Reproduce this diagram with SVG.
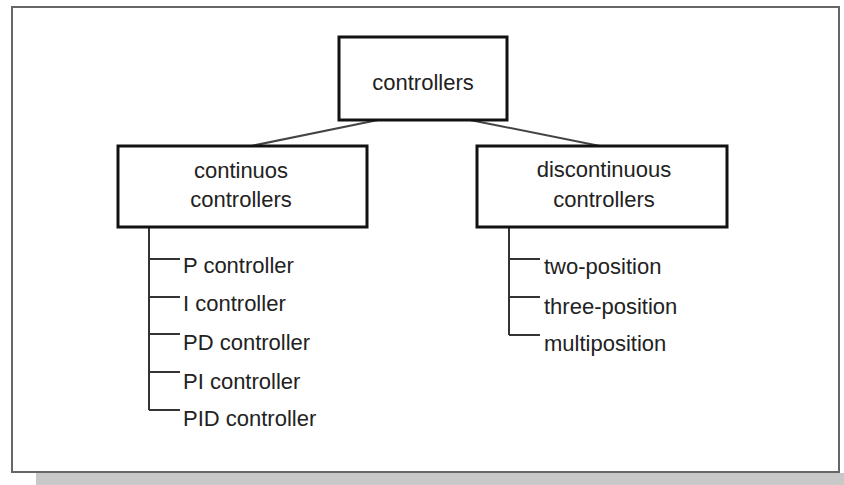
<svg xmlns="http://www.w3.org/2000/svg" width="844" height="485" viewBox="0 0 844 485">
  <style>
    .box { fill: #ffffff; stroke: #111111; stroke-width: 3; }
    .lbl { font-family: "Liberation Sans", Arial, sans-serif; font-size: 22px; fill: #222222; }
    .mid { text-anchor: middle; }
    .link { fill: none; stroke: #444444; stroke-width: 2; }
    .tree { fill: none; stroke: #333333; stroke-width: 2; }
  </style>

  <!-- page background, drop shadow and frame -->
  <rect x="0" y="0" width="844" height="485" fill="#ffffff"/>
  <rect x="36" y="473" width="808" height="12" fill="#c8c8c8"/>
  <rect x="12" y="7" width="827" height="465" fill="#ffffff" stroke="#666666" stroke-width="2"/>

  <!-- connectors -->
  <g id="connectors">
    <line class="link" x1="378" y1="120" x2="251" y2="146"/>
    <line class="link" x1="470" y1="120" x2="600" y2="146"/>
    <path class="tree" d="M149 228 V410 M149 259 H180 M149 297 H180 M149 334 H180 M149 372 H180 M149 410 H180"/>
    <path class="tree" d="M509 228 V335 M509 259 H540 M509 297 H540 M509 335 H540"/>
  </g>

  <g id="controllers">
    <rect class="box" x="339" y="37" width="168" height="83"/>
    <text class="lbl mid" x="423" y="90">controllers</text>
  </g>

  <g id="continuous">
    <rect class="box" x="118" y="146" width="249" height="81"/>
    <text class="lbl mid" x="241" y="178">continuos</text>
    <text class="lbl mid" x="241" y="207">controllers</text>
  </g>

  <g id="discontinuous">
    <rect class="box" x="477" y="146" width="250" height="81"/>
    <text class="lbl mid" x="604" y="177">discontinuous</text>
    <text class="lbl mid" x="604" y="207">controllers</text>
  </g>

  <g id="continuous-items">
    <text class="lbl" x="183" y="273">P controller</text>
    <text class="lbl" x="183" y="311">I controller</text>
    <text class="lbl" x="183" y="350">PD controller</text>
    <text class="lbl" x="183" y="389">PI controller</text>
    <text class="lbl" x="183" y="426">PID controller</text>
  </g>

  <g id="discontinuous-items">
    <text class="lbl" x="544" y="274">two-position</text>
    <text class="lbl" x="544" y="314">three-position</text>
    <text class="lbl" x="544" y="351">multiposition</text>
  </g>
</svg>
